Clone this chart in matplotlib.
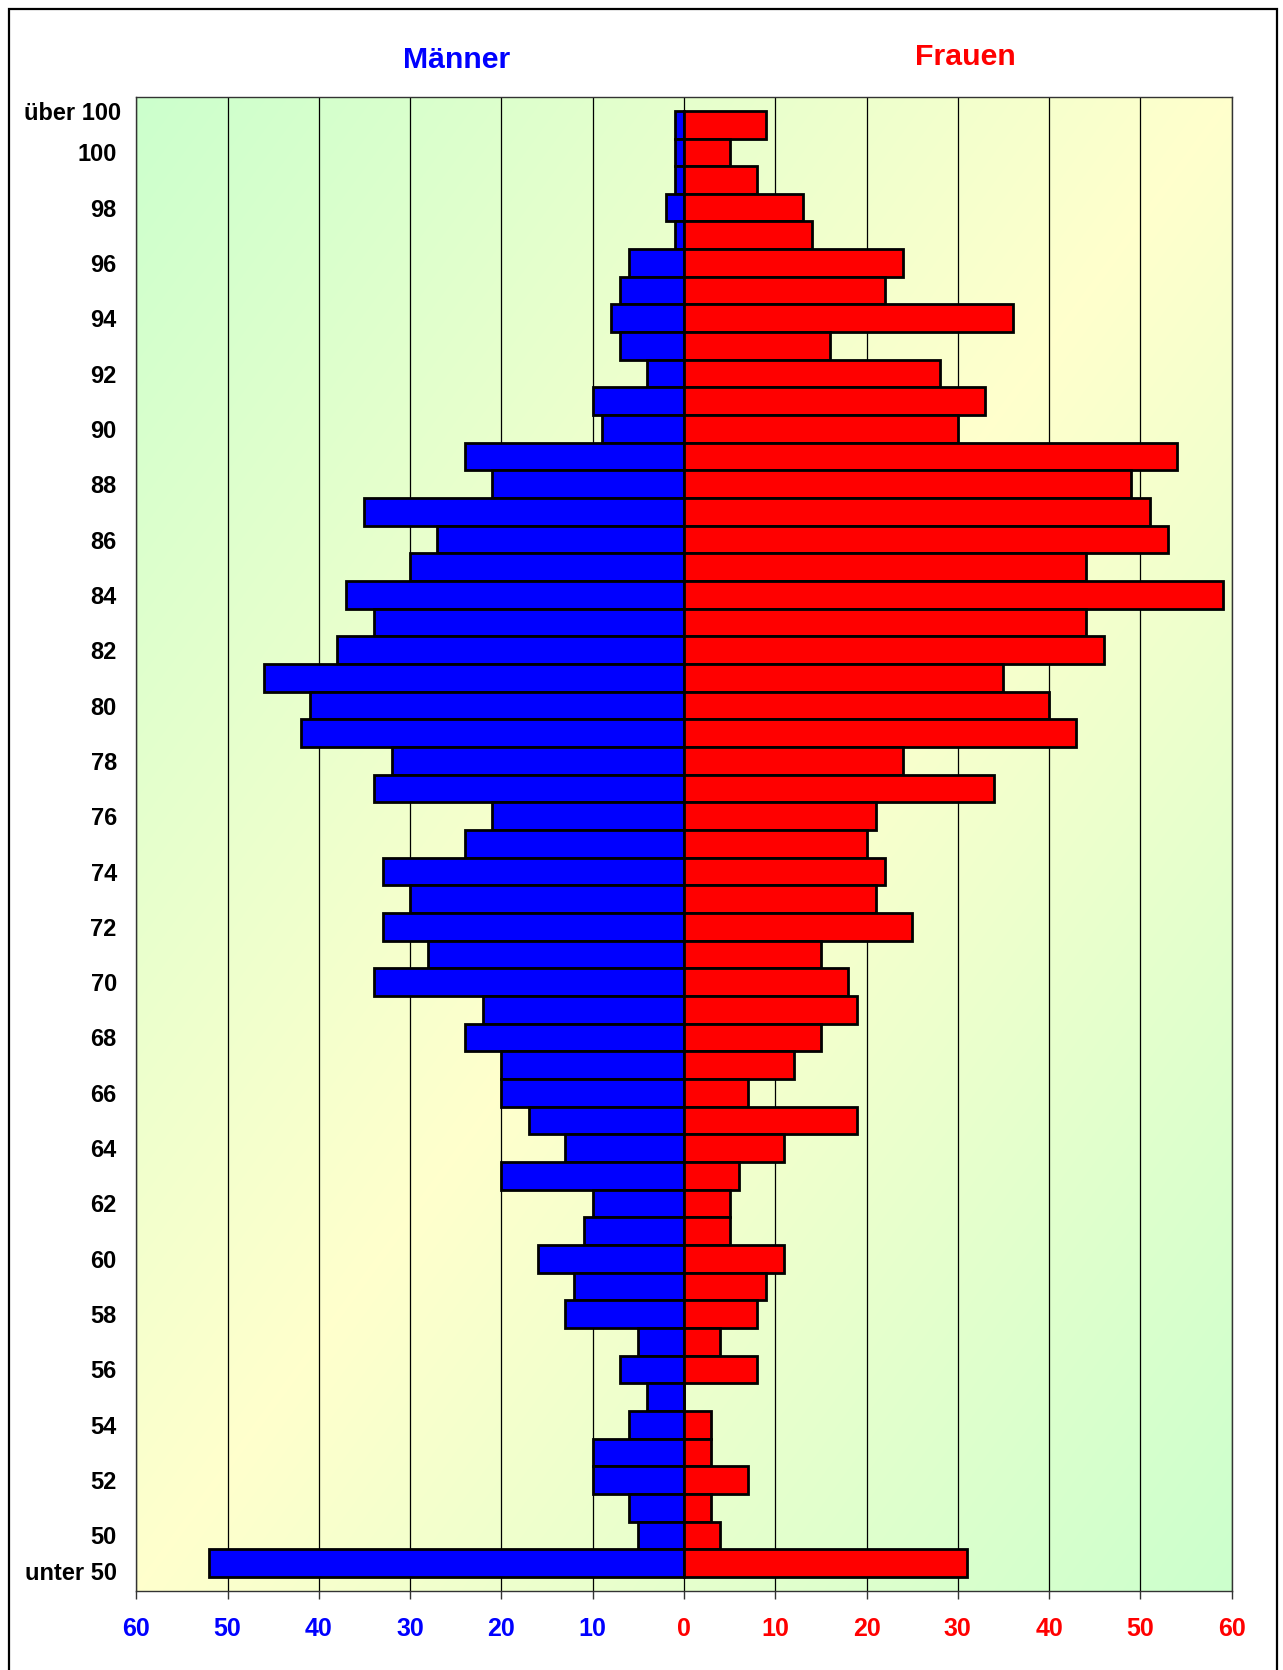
import matplotlib
matplotlib.use('Agg')
import matplotlib.pyplot as plt
import matplotlib.transforms as mtransforms
from matplotlib.colors import LinearSegmentedColormap
from matplotlib.patches import Rectangle
import numpy as np

plt.rcParams['font.family'] = ['Liberation Sans', 'DejaVu Sans']
plt.rcParams['font.weight'] = 'bold'

# Altersgruppen von oben nach unten
ages = ['über 100'] + [str(a) for a in range(100, 49, -1)] + ['unter 50']

maenner = [1, 1, 1, 2, 1, 6, 7, 8, 7, 4,
           10, 9, 24, 21, 35, 27, 30, 37, 34, 38,
           46, 41, 42, 32, 34, 21, 24, 33, 30, 33,
           28, 34, 22, 24, 20, 20, 17, 13, 20, 10,
           11, 16, 12, 13, 5, 7, 4, 6, 10, 10,
           6, 5, 52]
frauen = [9, 5, 8, 13, 14, 24, 22, 36, 16, 28,
          33, 30, 54, 49, 51, 53, 44, 59, 44, 46,
          35, 40, 43, 24, 34, 21, 20, 22, 21, 25,
          15, 18, 19, 15, 12, 7, 19, 11, 6, 5,
          5, 11, 9, 8, 4, 8, 0, 3, 3, 7,
          3, 4, 31]

shown_labels = ['über 100'] + [str(a) for a in range(100, 49, -2)] + ['unter 50']
xticks = list(range(-60, 61, 10))

fig = plt.figure(figsize=(12.83, 16.70), dpi=100)
ax = fig.add_axes([0.1062, 0.0475, 0.9600 - 0.1062, 0.9419 - 0.0475])

# diagonaler Verlauf im Hintergrund
cmap = LinearSegmentedColormap.from_list('bg', ['#FFFFCC', '#CCFFCC'])
gx, gy = np.meshgrid(np.linspace(0, 1, 300), np.linspace(1, 0, 300))
ax.imshow(np.abs(gx - gy), cmap=cmap, extent=(0, 1, 0, 1), transform=ax.transAxes,
          aspect='auto', zorder=0, interpolation='bilinear')

pos = np.arange(len(ages))
ax.barh(pos, -np.array(maenner), height=1.0, color='#0000FF', edgecolor='black',
        linewidth=2.0, zorder=3)
ax.barh(pos, frauen, height=1.0, color='#FF0000', edgecolor='black',
        linewidth=2.0, zorder=3)

ax.set_xlim(-60, 60)
ax.set_ylim(len(ages), -1)

for x in xticks:
    ax.axvline(x, color='black', linewidth=0.9, zorder=1)

ax.set_xticks(xticks)
ax.set_xticklabels([str(abs(v)) for v in xticks], fontsize=18, fontweight='bold')
for lab, v in zip(ax.get_xticklabels(), xticks):
    lab.set_color('#0000FF' if v < 0 else '#FF0000')
ax.tick_params(axis='x', direction='out', length=6, width=1, color='#333333', pad=13)

ypos = [ages.index(l) for l in shown_labels]
ax.set_yticks(ypos)
ax.set_yticklabels(shown_labels, fontsize=17, fontweight='bold')
ax.tick_params(axis='y', length=0, pad=14)
ylabs = ax.get_yticklabels()
ylabs[0].set_transform(ylabs[0].get_transform() +
                       mtransforms.ScaledTranslation(4 / 100, 14 / 100, fig.dpi_scale_trans))
ylabs[-1].set_transform(ylabs[-1].get_transform() +
                        mtransforms.ScaledTranslation(0, -8 / 100, fig.dpi_scale_trans))

for s in ax.spines.values():
    s.set_color('#333333')
    s.set_linewidth(1)

fig.text(457 / 1283, 1 - 60 / 1670, 'Männer', color='#0000FF', fontsize=21.8,
         fontweight='bold', ha='center', va='center')
fig.text(965 / 1283, 1 - 57 / 1670, 'Frauen', color='#FF0000', fontsize=21.8,
         fontweight='bold', ha='center', va='center')

fig.add_artist(Rectangle((9 / 1283, -0.01), (1277 - 9) / 1283, 1.01 - 9 / 1670,
                         transform=fig.transFigure, fill=False, edgecolor='black',
                         linewidth=1.6))

fig.savefig('out.png', dpi=100)
